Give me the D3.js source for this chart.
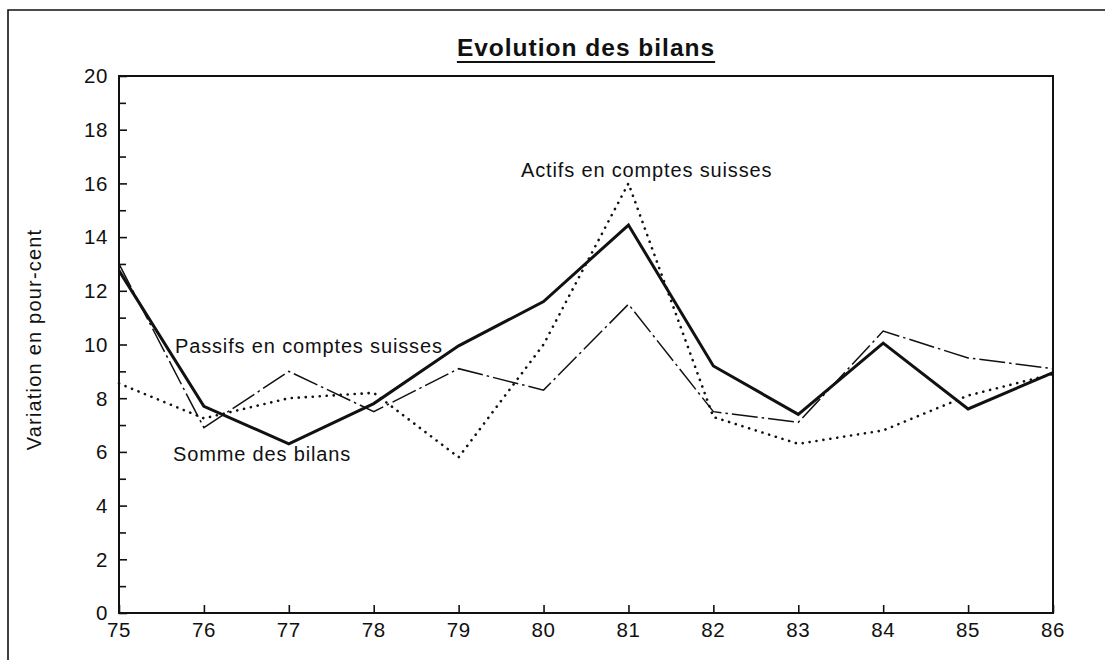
<!DOCTYPE html>
<html>
<head>
<meta charset="utf-8">
<script src="https://cdn.jsdelivr.net/npm/d3@7"></script>
<style>
  html, body { margin: 0; padding: 0; background: #fff; }
  svg { display: block; }
  text { font-family: "Liberation Sans", Arial, Helvetica, sans-serif; fill: #111; }
</style>
</head>
<body>
<svg id="chart" width="1105" height="660"></svg>
<script>
// ---- data ----
const years = ["75","76","77","78","79","80","81","82","83","84","85","86"];
const sommeDesBilans   = [12.75, 7.7, 6.3, 7.8, 9.95, 11.6, 14.45, 9.2, 7.4, 10.05, 7.6, 8.95];
const passifsSuisses   = [13.0, 6.9, 9.0, 7.5, 9.1, 8.3, 11.5, 7.5, 7.1, 10.5, 9.5, 9.1];
const actifsSuisses    = [8.55, 7.25, 8.0, 8.2, 5.8, 10.0, 16.0, 7.3, 6.3, 6.8, 8.1, 8.9];
const yMajorTicks = [0, 2, 4, 6, 8, 10, 12, 14, 16, 18, 20];
const yMinorTicks = [1, 3, 5, 7, 9, 11, 13, 15, 17, 19];
const titleText = "Evolution des bilans";
const yAxisTitle = "Variation en pour-cent";
const seriesLabels = ["Somme des bilans", "Passifs en comptes suisses", "Actifs en comptes suisses"];

(function () {
// ---- layout ----
const svg = d3.select("#chart");
const pLeft = 119, pRight = 1053, pTop = 76, pBottom = 613;

const x = d3.scalePoint().domain(years).range([pLeft, pRight]);
const y = d3.scaleLinear().domain([0, 20]).range([pBottom, pTop]);

// outer frame (left and top edges)
svg.append("path")
  .attr("d", `M8,660 L8,10 L1105,10`)
  .attr("fill", "none").attr("stroke", "#111").attr("stroke-width", 1.6);

// title
const title = svg.append("text")
  .attr("x", (pLeft + pRight) / 2).attr("y", 56)
  .attr("text-anchor", "middle")
  .attr("font-size", 24.5).attr("font-weight", "bold")
  .style("letter-spacing", "1px")
  .text(titleText);
const tb = title.node().getBBox();
svg.append("line")
  .attr("x1", tb.x).attr("x2", tb.x + tb.width)
  .attr("y1", 62).attr("y2", 62)
  .attr("stroke", "#111").attr("stroke-width", 2.2);

// plot frame
svg.append("rect")
  .attr("x", pLeft).attr("y", pTop)
  .attr("width", pRight - pLeft).attr("height", pBottom - pTop)
  .attr("fill", "none").attr("stroke", "#111").attr("stroke-width", 2);

// y axis (ticks inward)
const yAxis = d3.axisRight(y).tickValues(yMajorTicks).tickSize(8).tickFormat("");
const gy = svg.append("g").attr("transform", `translate(${pLeft},0)`).call(yAxis);
const yAxisMinor = d3.axisRight(y).tickValues(yMinorTicks).tickSize(7).tickFormat("");
const gy2 = svg.append("g").attr("transform", `translate(${pLeft},0)`).call(yAxisMinor);
[gy, gy2].forEach(g => {
  g.select(".domain").remove();
  g.selectAll(".tick line").attr("stroke", "#111").attr("stroke-width", 1.6);
});
svg.append("g").selectAll("text").data(yMajorTicks).join("text")
  .attr("x", pLeft - 11).attr("y", d => y(d))
  .attr("dy", "0.36em")
  .attr("text-anchor", "end")
  .attr("font-size", 20.5)
  .style("letter-spacing", "0.6px")
  .text(d => d);

// x axis (ticks inward)
const xAxis = d3.axisTop(x).tickSize(8).tickFormat("");
const gx = svg.append("g").attr("transform", `translate(0,${pBottom})`).call(xAxis);
gx.select(".domain").remove();
gx.selectAll(".tick line").attr("stroke", "#111").attr("stroke-width", 1.6);
svg.append("g").selectAll("text").data(years).join("text")
  .attr("x", d => x(d)).attr("y", 637)
  .attr("text-anchor", "middle")
  .attr("font-size", 20.5)
  .style("letter-spacing", "0.6px")
  .text(d => d);

// y axis title
svg.append("text")
  .attr("transform", `translate(41,${(pTop + pBottom) / 2 - 5}) rotate(-90)`)
  .attr("text-anchor", "middle")
  .attr("font-size", 20)
  .style("letter-spacing", "1.2px")
  .text(yAxisTitle);

// lines
const line = d3.line().x((d, i) => x(years[i])).y(d => y(d));

svg.append("path").datum(actifsSuisses)
  .attr("d", line).attr("fill", "none")
  .attr("stroke", "#111").attr("stroke-width", 2.6)
  .attr("stroke-linecap", "round")
  .attr("stroke-dasharray", "0.1,6.9");

svg.append("path").datum(passifsSuisses)
  .attr("d", line).attr("fill", "none")
  .attr("stroke", "#111").attr("stroke-width", 1.5)
  .attr("stroke-dasharray", "26,4,2.5,4");

svg.append("path").datum(sommeDesBilans)
  .attr("d", line).attr("fill", "none")
  .attr("stroke", "#111").attr("stroke-width", 3)
  .attr("stroke-linejoin", "miter");

// series labels
const labelPos = [[173, 461], [175, 353], [521, 177]];
svg.append("g").selectAll("text").data(seriesLabels).join("text")
  .attr("x", (d, i) => labelPos[i][0])
  .attr("y", (d, i) => labelPos[i][1])
  .attr("font-size", 20)
  .style("letter-spacing", "0.85px")
  .text(d => d);
})();
</script>
</body>
</html>
